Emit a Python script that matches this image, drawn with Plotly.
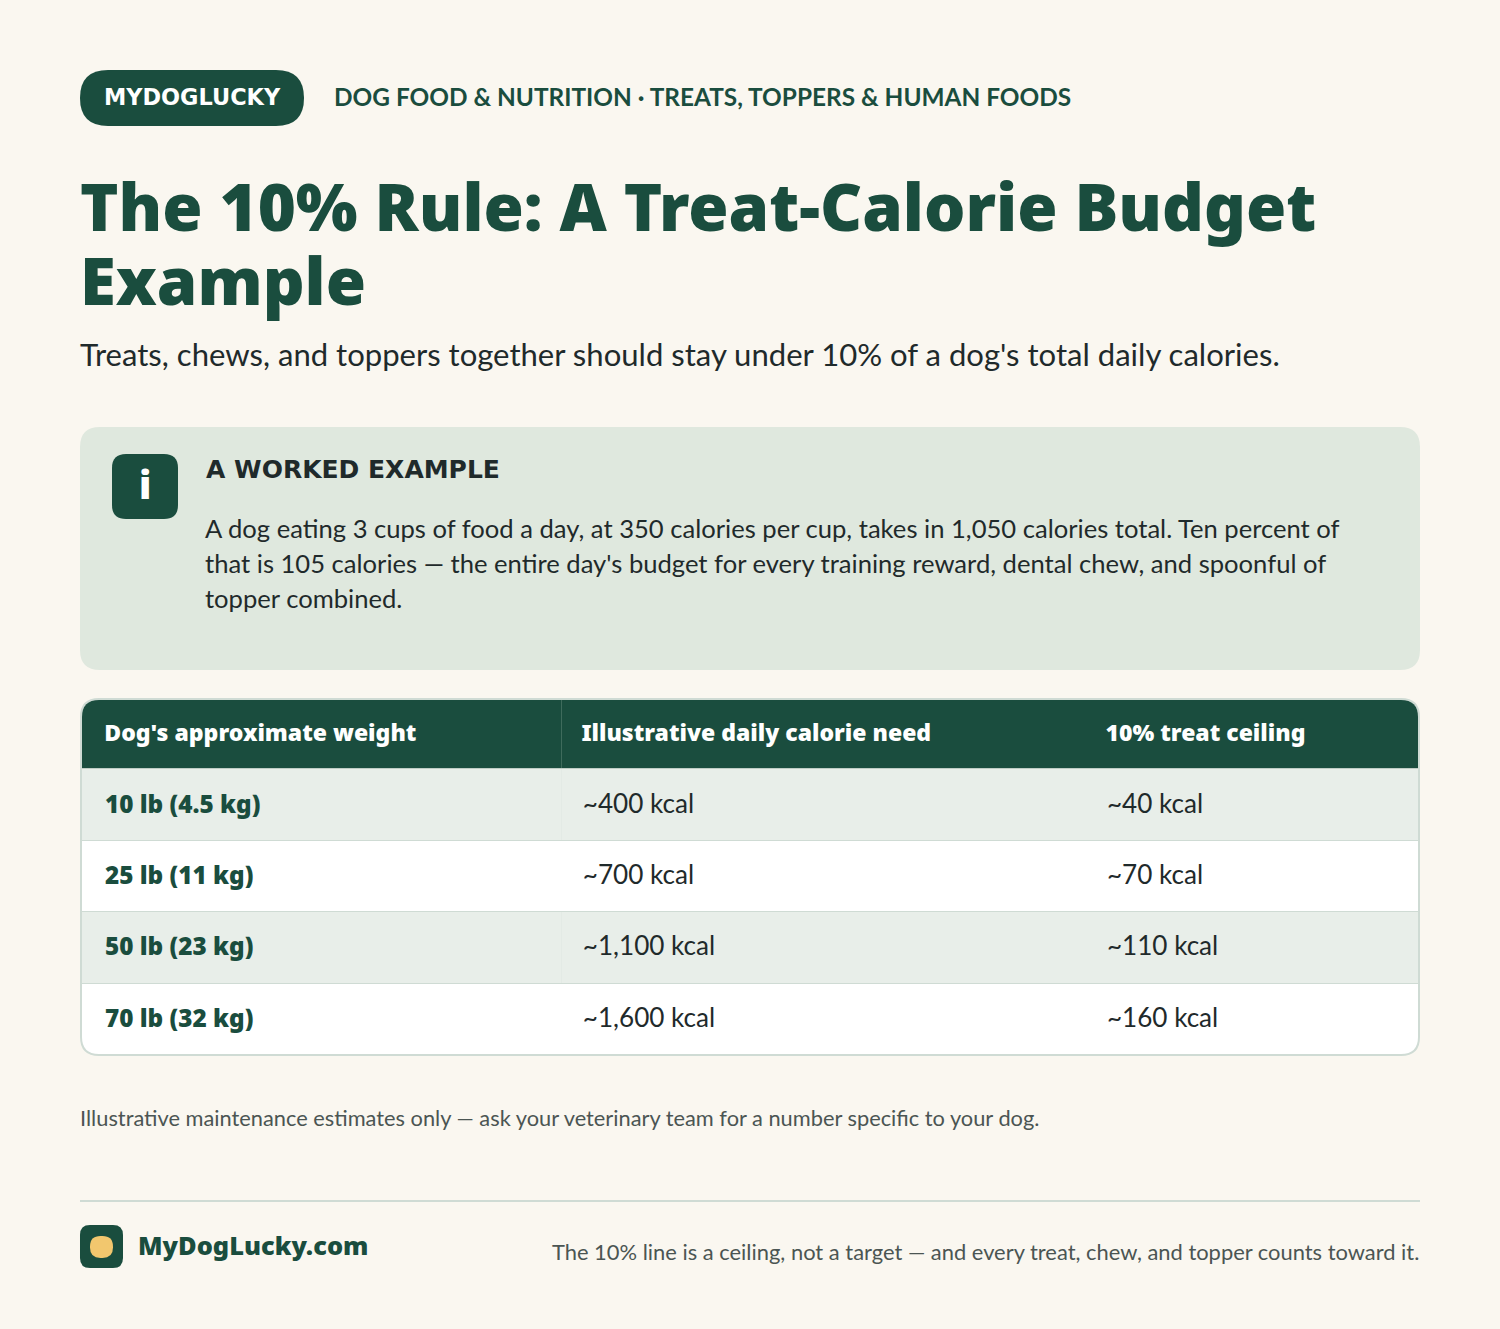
import plotly.graph_objects as go

# ---------- data ----------
COLUMN_HEADERS = ["Dog's approximate weight", "Illustrative daily calorie need", "10% treat ceiling"]
WEIGHTS = ["10 lb (4.5 kg)", "25 lb (11 kg)", "50 lb (23 kg)", "70 lb (32 kg)"]
DAILY_KCAL = ["~400 kcal", "~700 kcal", "~1,100 kcal", "~1,600 kcal"]
TREAT_KCAL = ["~40 kcal", "~70 kcal", "~110 kcal", "~160 kcal"]

BADGE = "MYDOGLUCKY"
KICKER = "DOG FOOD & NUTRITION · TREATS, TOPPERS & HUMAN FOODS"
TITLE_LINES = ["The 10% Rule: A Treat-Calorie Budget", "Example"]
SUBTITLE = "Treats, chews, and toppers together should stay under 10% of a dog's total daily calories."
CALLOUT_HEAD = "A WORKED EXAMPLE"
CALLOUT_LINES = [
    "A dog eating 3 cups of food a day, at 350 calories per cup, takes in 1,050 calories total. Ten percent of",
    "that is 105 calories — the entire day's budget for every training reward, dental chew, and spoonful of",
    "topper combined.",
]
NOTE = "Illustrative maintenance estimates only — ask your veterinary team for a number specific to your dog."
BRAND = "MyDogLucky.com"
FOOT = "The 10% line is a ceiling, not a target — and every treat, chew, and topper counts toward it."

# ---------- style ----------
W, H = 1500, 1329
BG = "#faf7f0"
GREEN = "#1a4d3e"
PALE = "#dfe8de"
ZEBRA = "#e8eee9"
BORDER = "#cfdbd4"
INK = "#1f2a2b"
GREY = "#4b5553"
GOLD = "#f2c76e"
FONT = "Lato, 'Noto Sans', sans-serif"
HEAVY = "'Noto Sans', sans-serif"
WIDE = "'DejaVu Sans', sans-serif"


def px(x):
    return x / W


def py(y):
    return 1 - y / H


def rr_path(x0, y0, x1, y1, tl, tr=None, br=None, bl=None):
    tr = tl if tr is None else tr
    br = tl if br is None else br
    bl = tl if bl is None else bl
    p = lambda x, y: f"{px(x):.6f},{py(y):.6f}"
    return (
        f"M {p(x0 + tl, y0)} L {p(x1 - tr, y0)} Q {p(x1, y0)} {p(x1, y0 + tr)} "
        f"L {p(x1, y1 - br)} Q {p(x1, y1)} {p(x1 - br, y1)} "
        f"L {p(x0 + bl, y1)} Q {p(x0, y1)} {p(x0, y1 - bl)} "
        f"L {p(x0, y0 + tl)} Q {p(x0, y0)} {p(x0 + tl, y0)} Z"
    )


def box(x0, y0, x1, y1, r, fill, line=None, lw=0, **kw):
    return dict(
        type="path", xref="paper", yref="paper", path=rr_path(x0, y0, x1, y1, r, **kw),
        fillcolor=fill, line=dict(color=line or fill, width=lw), layer="below",
    )


def hline(x0, x1, y, color, width=1):
    return dict(type="line", xref="paper", yref="paper", x0=px(x0), x1=px(x1), y0=py(y), y1=py(y),
                line=dict(color=color, width=width), layer="below")


def vline(x, y0, y1, color):
    return dict(type="line", xref="paper", yref="paper", x0=px(x), x1=px(x), y0=py(y0), y1=py(y1),
                line=dict(color=color, width=1), layer="below")


def label(text, x, y, size, color, weight=400, anchor="left", family=FONT):
    return dict(
        text=text, x=px(x), y=py(y), xref="paper", yref="paper", xanchor=anchor, yanchor="middle",
        showarrow=False, align=anchor, borderpad=0,
        font=dict(family=family, size=size, color=color, weight=weight),
    )


ROW_EDGES = [768.5, 840.5, 911.5, 983.5]
shapes = [
    box(80, 70, 304, 126, 28, GREEN),
    box(80, 427, 1420, 670, 20, PALE),
    box(112, 454, 178, 519, 14, GREEN),
    box(81, 699, 1419, 1055, 18, "#ffffff", BORDER, 2),
    box(82, 700, 1418, 768, 17, GREEN, br=0, bl=0),
    box(82, 769, 1418, 840, 0, ZEBRA),
    box(82, 912, 1418, 983, 0, ZEBRA),
    hline(82, 1418, ROW_EDGES[0], "#bfcdc5"),
    hline(82, 1418, ROW_EDGES[1], BORDER),
    hline(82, 1418, ROW_EDGES[2], BORDER),
    hline(82, 1418, ROW_EDGES[3], BORDER),
    vline(561.5, 700, 768, "#3f6b5c"),
    vline(561.5, 769, 840, "#e3eae5"),
    vline(561.5, 912, 983, "#e3eae5"),
    hline(80, 1420, 1201, BORDER, 2),
    box(80, 1225, 123, 1268, 10, GREEN),
    box(90, 1236, 113, 1258, 10.5, GOLD),
]

annotations = [
    label(BADGE, 103, 97, 22.4, "#ffffff", 700, family=WIDE),
    label(KICKER, 333, 96.5, 24.4, GREEN, 700),
    label(TITLE_LINES[0], 79, 205, 65.2, GREEN, 900, family=HEAVY),
    label(TITLE_LINES[1], 79, 280, 65.2, GREEN, 900, family=HEAVY),
    label(SUBTITLE, 79, 354.5, 31.07, INK, 400),
    label("i", 145, 484, 38, "#ffffff", 900, "center", family=HEAVY),
    label(CALLOUT_HEAD, 205, 469, 25, INK, 700, family=WIDE),
    label(CALLOUT_LINES[0], 204, 528, 25.6, INK),
    label(CALLOUT_LINES[1], 204, 563, 25.6, INK),
    label(CALLOUT_LINES[2], 204, 598, 25.6, INK),
    label(NOTE, 79, 1117, 21.8, GREY),
    label(BRAND, 137, 1245, 25.4, GREEN, 900, family=HEAVY),
    label(FOOT, 1420, 1251, 21.9, GREY, 400, "right"),
]

PAD = "\u00a0\u00a0"
CLEAR = "rgba(0,0,0,0)"

table = go.Table(
    domain=dict(x=[px(84.3), px(1419.3)], y=[py(1064), py(716)]),
    columnwidth=[477.5, 524.5, 333],
    header=dict(
        values=[PAD + h for h in COLUMN_HEADERS],
        height=63, align="left",
        fill=dict(color=CLEAR), line=dict(color=CLEAR, width=0),
        font=dict(family=HEAVY, size=23, color="#ffffff", weight=900),
    ),
    cells=dict(
        values=[
            ["<br>" + PAD + v for v in WEIGHTS],
            ["<br>" + PAD + v for v in DAILY_KCAL],
            ["<br>" + PAD + v for v in TREAT_KCAL],
        ],
        height=71.25, align="left",
        fill=dict(color=CLEAR),
        line=dict(color=CLEAR, width=0),
        font=dict(family=[HEAVY, FONT, FONT], size=[24.3, 26.1, 26.1], color=[GREEN, INK, INK],
                  weight=[900, 400, 400]),
    ),
)

fig = go.Figure(table)
fig.update_layout(
    width=W, height=H, margin=dict(l=0, r=0, t=0, b=0),
    paper_bgcolor=BG, plot_bgcolor=BG, showlegend=False,
    shapes=shapes, annotations=annotations,
)
fig.write_html(
    "out.html",
    config={"displayModeBar": False},
    post_script="document.body.style.margin='0';document.body.style.background='%s';" % BG,
)
